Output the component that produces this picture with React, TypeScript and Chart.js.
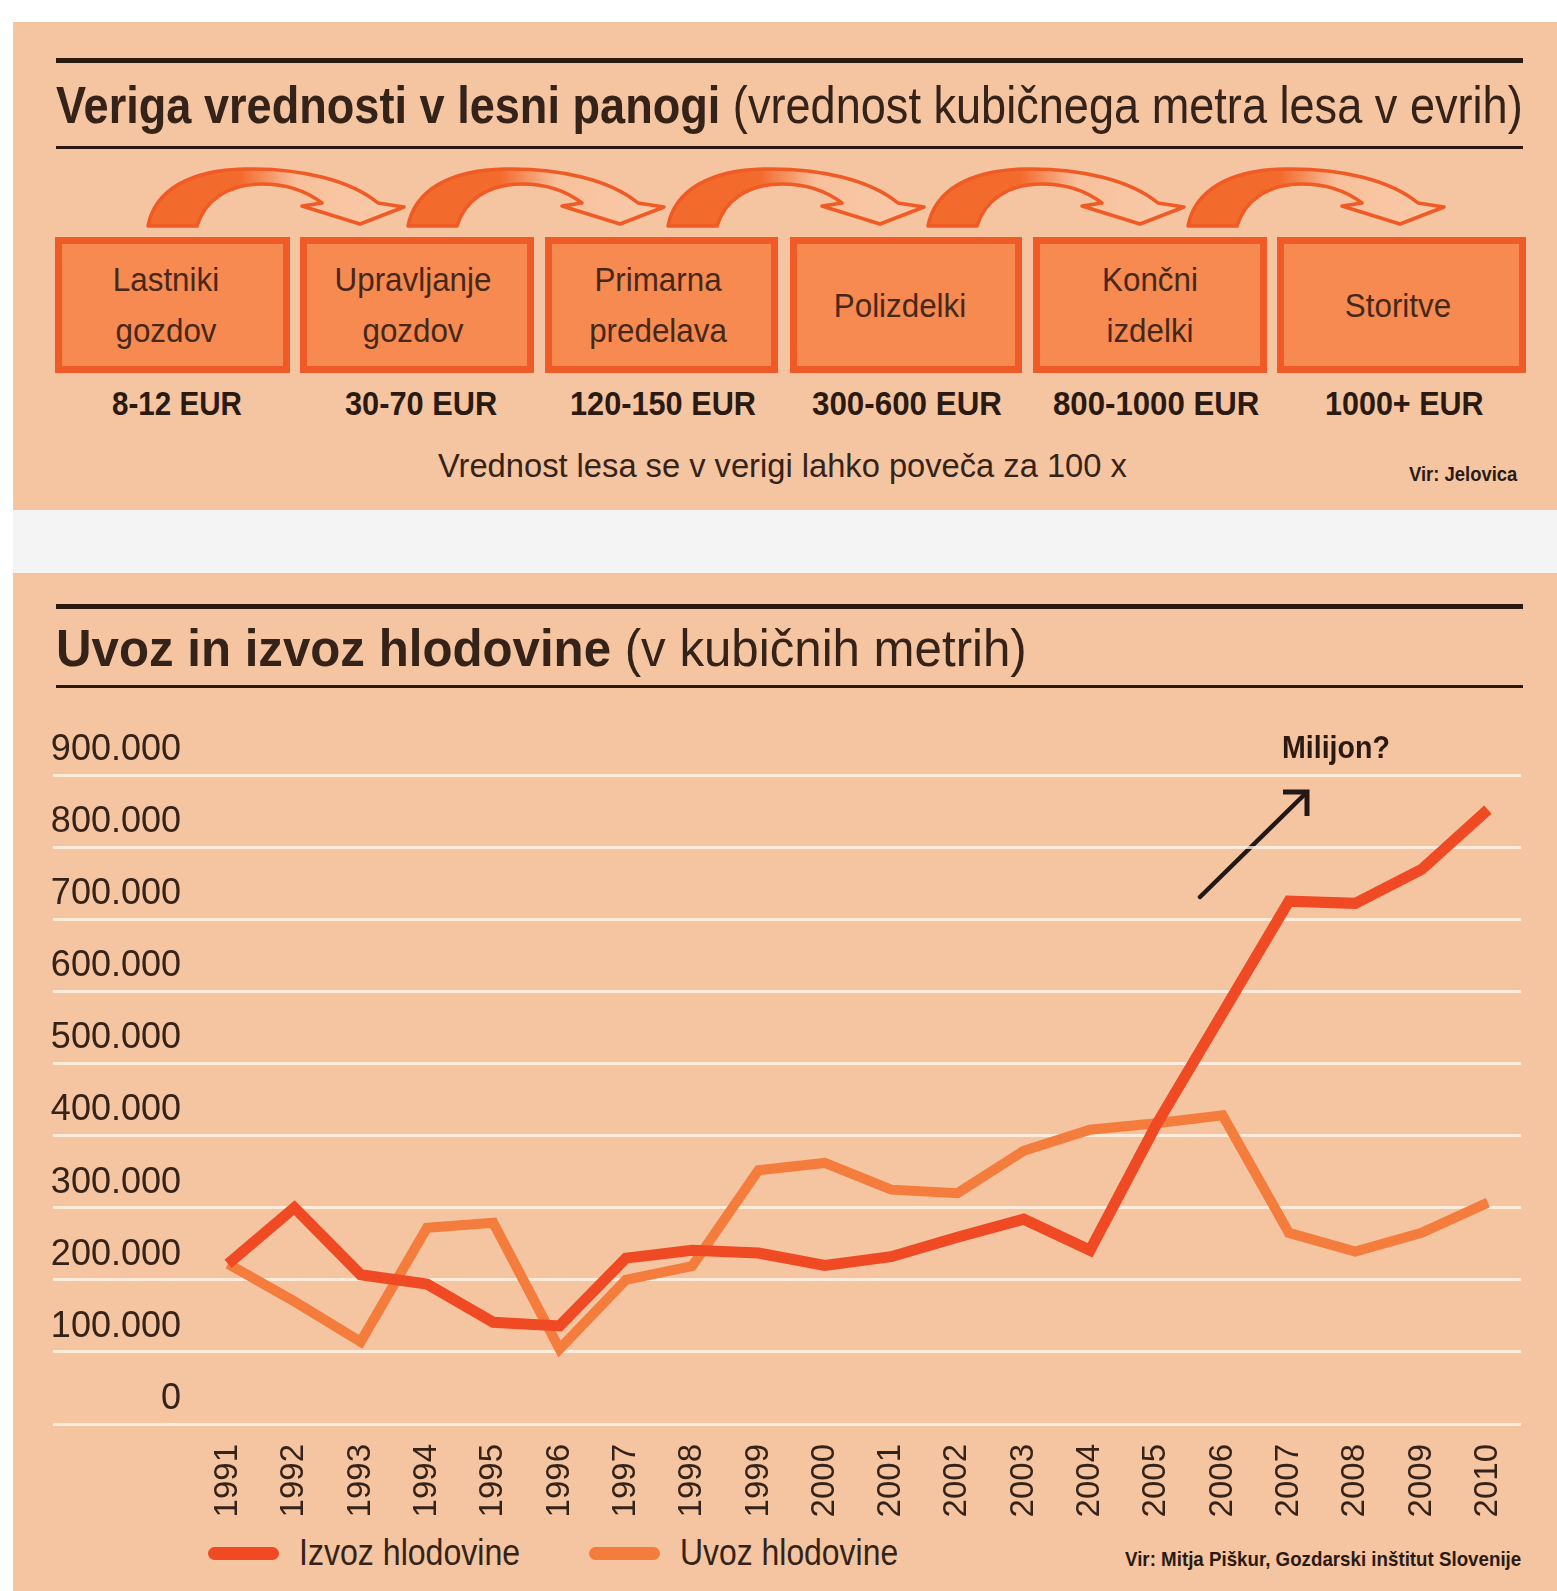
import React, { useEffect, useLayoutEffect, useRef, useState } from 'react';
import { Chart, registerables } from 'chart.js';

Chart.register(...registerables);

// ---------- data ----------
const YEARS = [1991, 1992, 1993, 1994, 1995, 1996, 1997, 1998, 1999, 2000, 2001, 2002, 2003, 2004, 2005, 2006, 2007, 2008, 2009, 2010];
const IZVOZ = [222000, 300000, 207000, 194000, 141000, 136000, 230000, 241000, 237000, 220000, 232000, 259000, 284000, 241000, 415000, 570000, 725000, 722000, 769000, 852000];
const UVOZ = [222000, 170000, 114000, 272000, 279000, 104000, 200000, 219000, 352000, 362000, 325000, 320000, 379000, 408000, 417000, 428000, 265000, 239000, 265000, 307000];
const Y_TICKS = [0, 100000, 200000, 300000, 400000, 500000, 600000, 700000, 800000, 900000];
const SERIES_NAMES = ['Izvoz hlodovine', 'Uvoz hlodovine'];
const STAGES = [['Lastniki', 'gozdov'], ['Upravljanje', 'gozdov'], ['Primarna', 'predelava'], ['Polizdelki'], ['Končni', 'izdelki'], ['Storitve']];
const PRICES = ['8-12 EUR', '30-70 EUR', '120-150 EUR', '300-600 EUR', '800-1000 EUR', '1000+ EUR'];

// ---------- styling / layout ----------
const FONT = '"Liberation Sans", Arial, Helvetica, sans-serif';
const INK = '#35231a';
const BG = '#f5c4a0';
const RED = '#ef4a23';
const ORANGE = '#f47c3c';

const BOX_L = [55, 300, 545, 790, 1033, 1277];
const BOX_R = [290, 534, 778, 1022, 1267, 1526];
const BOX_TEXT_CX = [166, 413, 658, 900, 1150, 1398];
const PRICE_X = [112, 345, 570, 812, 1053, 1325];
const PRICE_W = [130, 152, 186, 190, 206, 159];

const fmtY = (v: number) => (v === 0 ? '0' : `${Math.round(v / 1000)}.000`);

function T({ x, y, size, w, sx, align = 'left', weight = 400, color = INK, children }: any) {
  const ref = useRef<HTMLDivElement>(null);
  const [s, setS] = useState<number>(sx ?? 1);
  useLayoutEffect(() => {
    if (w && ref.current) {
      const nat = ref.current.offsetWidth;
      if (nat > 0) setS(w / nat);
    }
  }, [w]);
  const center = align === 'center';
  return (
    <div
      ref={ref}
      style={{
        position: 'absolute',
        left: x,
        top: y - size * 0.49,
        fontSize: size,
        lineHeight: `${size}px`,
        fontWeight: weight,
        color,
        whiteSpace: 'nowrap',
        fontFamily: FONT,
        transformOrigin: center ? '50% 50%' : '0 50%',
        transform: `${center ? 'translateX(-50%) ' : ''}scaleX(${s})`,
      }}
    >
      {children}
    </div>
  );
}

function Rule({ y, h }: { y: number; h: number }) {
  return <div style={{ position: 'absolute', left: 56, width: 1467, top: y, height: h, background: '#2a1a12' }} />;
}

function LineChart() {
  const canvasRef = useRef<HTMLCanvasElement>(null);
  useEffect(() => {
    const canvas = canvasRef.current;
    if (!canvas) return;
    const chartLeft = 53;
    const chartRight = 1521;
    const labelRight = 181;
    const yFont = 36;
    const mctx = document.createElement('canvas').getContext('2d')!;
    mctx.font = `${yFont}px ${FONT}`;
    const widest = Math.max(...Y_TICKS.map((v) => mctx.measureText(fmtY(v)).width));
    const pad = labelRight - chartLeft - widest;

    const chart = new Chart(canvas, {
      type: 'line',
      data: {
        datasets: [
          {
            label: SERIES_NAMES[0],
            data: YEARS.map((yr, i) => ({ x: yr, y: IZVOZ[i] })),
            borderColor: RED,
            backgroundColor: RED,
            borderWidth: 11,
            pointRadius: 0,
            tension: 0,
            fill: false,
          },
          {
            label: SERIES_NAMES[1],
            data: YEARS.map((yr, i) => ({ x: yr, y: UVOZ[i] })),
            borderColor: ORANGE,
            backgroundColor: ORANGE,
            borderWidth: 10,
            pointRadius: 0,
            tension: 0,
            fill: false,
          },
        ],
      },
      options: {
        animation: false,
        responsive: false,
        maintainAspectRatio: false,
        layout: { padding: { left: chartLeft, right: 1557 - chartRight, top: 775 - 690, bottom: 0 } },
        plugins: { legend: { display: false }, tooltip: { enabled: false } },
        scales: {
          x: {
            type: 'linear',
            min: 1988.36,
            max: 2010.5,
            grid: { display: false },
            border: { display: false },
            afterBuildTicks: (s: any) => {
              s.ticks = YEARS.map((v) => ({ value: v }));
            },
            afterFit: (s: any) => {
              s.height = 100;
            },
            ticks: {
              autoSkip: false,
              minRotation: 90,
              maxRotation: 90,
              padding: 12,
              color: INK,
              font: { family: FONT, size: 33 },
              callback: (v: any) => String(v),
            },
          },
          y: {
            min: 0,
            max: 900000,
            afterBuildTicks: (s: any) => {
              s.ticks = Y_TICKS.map((v) => ({ value: v }));
            },
            afterFit: (s: any) => {
              s.width = 0;
            },
            grid: { color: 'rgba(255,248,238,0.75)', lineWidth: 3, drawTicks: false },
            border: { display: false },
            ticks: {
              mirror: true,
              crossAlign: 'far',
              padding: pad,
              labelOffset: -25,
              color: INK,
              font: { family: FONT, size: yFont },
              callback: (v: any) => fmtY(Number(v)),
            },
          },
        },
      } as any,
    });
    return () => chart.destroy();
  }, []);
  return (
    <div style={{ position: 'absolute', left: 0, top: 690, width: 1557, height: 834 }}>
      <canvas ref={canvasRef} width={1557} height={834} style={{ width: 1557, height: 834, display: 'block' }} />
    </div>
  );
}

function Arrows() {
  const pitch = 260;
  const d =
    'M148,226 C155,190 190,170 245,169 C300,168 350,180 378,203 L404,207 L360,224 L302,206 L322,203 C305,190 285,184 262,184 C228,184 205,200 197,226 Z';
  return (
    <svg width={1557} height={1591} style={{ position: 'absolute', left: 0, top: 0, pointerEvents: 'none' }}>
      <defs>
        <linearGradient id="arrowGrad" gradientUnits="userSpaceOnUse" x1="148" y1="0" x2="404" y2="0">
          <stop offset="0" stopColor="#f26a2c" />
          <stop offset="0.36" stopColor="#f26a2c" />
          <stop offset="0.58" stopColor="#f8c09b" />
          <stop offset="1" stopColor="#f9cbab" />
        </linearGradient>
      </defs>
      {[0, 1, 2, 3, 4].map((i) => (
        <g key={i} transform={`translate(${i * pitch},0)`}>
          <path d={d} fill="url(#arrowGrad)" stroke="#f05a24" strokeWidth={3.5} strokeLinejoin="round" />
        </g>
      ))}
      {/* annotation arrow */}
      <line x1={1200} y1={897} x2={1305} y2={794} stroke="#231815" strokeWidth={4.5} strokeLinecap="round" />
      <polyline points="1283,792 1307,792 1307,816" fill="none" stroke="#231815" strokeWidth={5} strokeLinejoin="miter" />
    </svg>
  );
}

export default function App() {
  return (
    <div style={{ position: 'fixed', left: 0, top: 0, width: 1557, height: 1591, background: '#ffffff', overflow: 'hidden', fontFamily: FONT }}>
      {/* paper background */}
      <div style={{ position: 'absolute', left: 13, top: 22, right: 0, bottom: 0, background: BG }} />
      <div style={{ position: 'absolute', left: 13, top: 510, right: 0, height: 63, background: '#f4f4f5' }} />

      {/* upper panel */}
      <Rule y={58} h={5} />
      <T x={56} y={104} size={52} w={1467}>
        <span style={{ fontWeight: 700 }}>Veriga vrednosti v lesni panogi</span>
        <span style={{ fontWeight: 400 }}> (vrednost kubičnega metra lesa v evrih)</span>
      </T>
      <Rule y={146} h={3} />
      <Arrows />
      {STAGES.map((lines, i) => (
        <div
          key={i}
          style={{
            position: 'absolute',
            left: BOX_L[i],
            top: 237,
            width: BOX_R[i] - BOX_L[i],
            height: 136,
            boxSizing: 'border-box',
            border: '7px solid #f05a26',
            background: '#f68a50',
          }}
        />
      ))}
      {STAGES.map((lines, i) =>
        lines.length === 2 ? (
          <React.Fragment key={i}>
            <T x={BOX_TEXT_CX[i]} y={279} size={33} align="center" sx={0.95} color="#46281a">{lines[0]}</T>
            <T x={BOX_TEXT_CX[i]} y={330} size={33} align="center" sx={0.95} color="#46281a">{lines[1]}</T>
          </React.Fragment>
        ) : (
          <T key={i} x={BOX_TEXT_CX[i]} y={305} size={33} align="center" sx={0.95} color="#46281a">{lines[0]}</T>
        )
      )}
      {PRICES.map((p, i) => (
        <T key={i} x={PRICE_X[i]} y={403} size={33} w={PRICE_W[i]} weight={700} color="#2a1a12">{p}</T>
      ))}
      <T x={438} y={465} size={33} w={689}>Vrednost lesa se v verigi lahko poveča za 100 x</T>
      <T x={1409} y={473} size={21} w={108} weight={700} color="#2a1a12">Vir: Jelovica</T>

      {/* lower panel */}
      <Rule y={604} h={5} />
      <T x={56} y={647} size={52} w={971}>
        <span style={{ fontWeight: 700 }}>Uvoz in izvoz hlodovine</span>
        <span style={{ fontWeight: 400 }}> (v kubičnih metrih)</span>
      </T>
      <Rule y={685} h={3} />

      <LineChart />

      <T x={1282} y={747} size={32} w={108} weight={700} color="#2a1a12">Milijon?</T>

      {/* legend */}
      <div style={{ position: 'absolute', left: 208, top: 1547, width: 71, height: 13, borderRadius: 7, background: RED }} />
      <T x={299} y={1553} size={36} w={221}>{SERIES_NAMES[0]}</T>
      <div style={{ position: 'absolute', left: 589, top: 1547, width: 71, height: 13, borderRadius: 7, background: ORANGE }} />
      <T x={680} y={1553} size={36} w={218}>{SERIES_NAMES[1]}</T>
      <T x={1125} y={1558} size={21} w={396} weight={700} color="#2a1a12">Vir: Mitja Piškur, Gozdarski inštitut Slovenije</T>
    </div>
  );
}
